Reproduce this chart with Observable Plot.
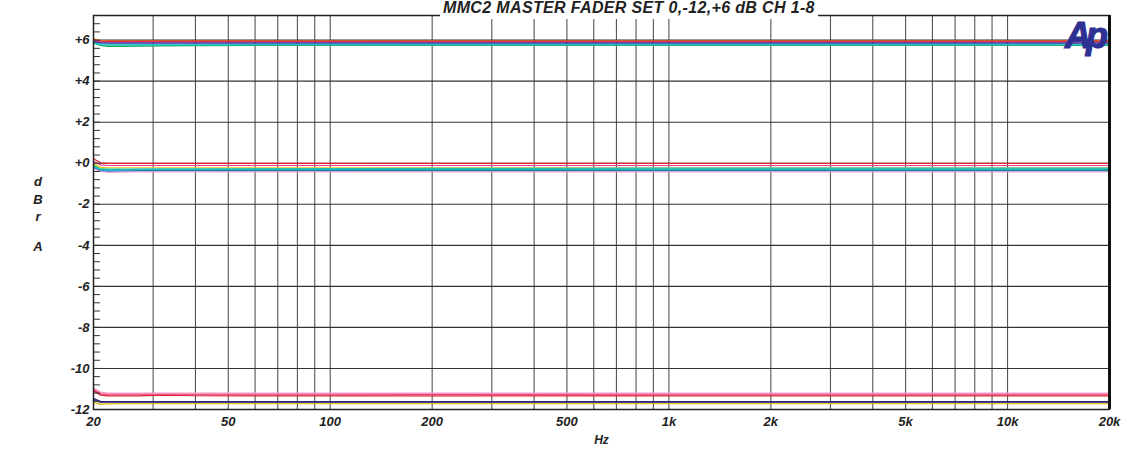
<!DOCTYPE html>
<html><head><meta charset="utf-8">
<script src="https://cdn.jsdelivr.net/npm/d3@7"></script>
<script src="https://cdn.jsdelivr.net/npm/@observablehq/plot@0.6"></script>
<style>
body{margin:0;background:#fff;font-family:"Liberation Sans",Arial,sans-serif;}
#wrap{position:relative;width:1128px;height:452px;overflow:hidden;}
.t{position:absolute;font-family:"Liberation Sans",Arial,sans-serif;font-weight:bold;font-style:italic;color:#222;white-space:nowrap;}
#title{left:440px;top:0px;font-size:16px;line-height:16px;background:#fff;padding:0 3px 3px 3px;}
#logo{left:1065px;top:18px;font-size:36px;line-height:36px;color:#2e3192;letter-spacing:-5px;-webkit-text-stroke:1.2px #2e3192;}
.yl{font-size:13px;line-height:14px;width:20px;text-align:center;left:28px;}
</style></head><body><div id="wrap"></div>
<script>
// ---- data ----
const freqHz = [20, 21, 22, 24, 27, 32, 40, 60, 100, 200, 1000, 20000];

const levelsPlus6 = [
  [6.08, 5.98, 5.95, 5.95, 5.95, 5.95, 5.95, 5.95, 5.95, 5.95, 5.95, 5.95],
  [5.85, 5.74, 5.70, 5.70, 5.71, 5.72, 5.73, 5.74, 5.74, 5.74, 5.74, 5.74],
  [5.88, 5.78, 5.76, 5.76, 5.76, 5.76, 5.76, 5.77, 5.77, 5.77, 5.77, 5.77],
  [5.90, 5.82, 5.80, 5.80, 5.80, 5.80, 5.80, 5.80, 5.80, 5.81, 5.81, 5.81],
  [5.93, 5.88, 5.86, 5.86, 5.86, 5.86, 5.86, 5.86, 5.86, 5.86, 5.86, 5.86],
  [5.95, 5.89, 5.87, 5.87, 5.87, 5.87, 5.87, 5.87, 5.87, 5.87, 5.87, 5.87],
  [5.98, 5.93, 5.92, 5.92, 5.92, 5.92, 5.92, 5.92, 5.92, 5.92, 5.92, 5.92],
  [6.03, 5.97, 5.95, 5.95, 5.95, 5.95, 5.95, 5.95, 5.95, 5.95, 5.95, 5.95]
];
const levelsZero = [
  [-0.02, -0.20, -0.22, -0.22, -0.22, -0.22, -0.22, -0.23, -0.23, -0.23, -0.23, -0.23],
  [-0.25, -0.40, -0.44, -0.43, -0.42, -0.42, -0.42, -0.42, -0.42, -0.42, -0.42, -0.42],
  [-0.20, -0.35, -0.38, -0.37, -0.36, -0.36, -0.36, -0.36, -0.36, -0.36, -0.36, -0.36],
  [-0.10, -0.29, -0.31, -0.31, -0.31, -0.31, -0.31, -0.31, -0.31, -0.31, -0.31, -0.31],
  [-0.18, -0.33, -0.34, -0.32, -0.30, -0.29, -0.28, -0.27, -0.26, -0.25, -0.24, -0.24],
  [-0.15, -0.28, -0.29, -0.29, -0.29, -0.29, -0.29, -0.29, -0.29, -0.29, -0.29, -0.29],
  [0.10, -0.08, -0.11, -0.11, -0.11, -0.11, -0.11, -0.11, -0.11, -0.11, -0.11, -0.11],
  [0.22, 0.02, -0.01, -0.01, -0.01, -0.01, -0.01, -0.01, -0.01, -0.01, -0.01, -0.01]
];
const levelsMinus12 = [
  [-11.65, -11.75, -11.73, -11.72, -11.72, -11.72, -11.72, -11.72, -11.72, -11.72, -11.72, -11.72],
  [-11.55, -11.66, -11.64, -11.64, -11.64, -11.64, -11.64, -11.64, -11.64, -11.64, -11.64, -11.64],
  [-11.45, -11.60, -11.63, -11.63, -11.63, -11.63, -11.63, -11.63, -11.63, -11.63, -11.63, -11.63],
  [-11.50, -11.62, -11.62, -11.62, -11.62, -11.62, -11.62, -11.62, -11.62, -11.62, -11.62, -11.62],
  [-11.05, -11.27, -11.28, -11.28, -11.28, -11.28, -11.28, -11.28, -11.28, -11.27, -11.28, -11.28],
  [-11.10, -11.30, -11.34, -11.34, -11.34, -11.30, -11.33, -11.34, -11.34, -11.34, -11.34, -11.34],
  [-11.00, -11.22, -11.24, -11.24, -11.24, -11.24, -11.24, -11.24, -11.24, -11.24, -11.24, -11.24],
  [-10.95, -11.15, -11.20, -11.20, -11.20, -11.20, -11.20, -11.20, -11.20, -11.20, -11.20, -11.20]
];

const colorsPlus6 = ["#e8c21a", "#11a84e", "#14c4a8", "#22b4e6", "#2a2a70", "#3a45b0", "#e0308c", "#e3242b"];
const colorsZero = ["#e8c21a", "#f4a6cc", "#2f6fd0", "#11a84e", "#22b4e6", "#14c4a8", "#e83e8c", "#e3242b"];
const colorsMinus12 = ["#d8b800", "#2e3192", "#5b3f99", "#2a2a70", "#e0308c", "#e3242b", "#ee5a8f", "#f49ac1"];

const xTickHz = [20, 50, 100, 200, 500, 1000, 2000, 5000, 10000, 20000];
const xTickLabels = ["20", "50", "100", "200", "500", "1k", "2k", "5k", "10k", "20k"];
const yTickDb = [6, 4, 2, 0, -2, -4, -6, -8, -10, -12];
const yTickLabels = ["+6", "+4", "+2", "+0", "-2", "-4", "-6", "-8", "-10", "-12"];
const titleText = "MMC2 MASTER FADER SET 0,-12,+6 dB CH 1-8";

// ---- build ----
const rows = [];
[[levelsPlus6, colorsPlus6, "p6"], [levelsZero, colorsZero, "z"], [levelsMinus12, colorsMinus12, "m12"]].forEach(([lv, cs, g]) => {
  lv.forEach((vals, c) => vals.forEach((v, i) => rows.push({trace: g + c, color: cs[c], hz: freqHz[i], db: v})));
});
const gridHz = [];
for (const dec of [10, 100, 1000, 10000]) for (let m = 1; m <= 9; m++) { const v = m * dec; if (v > 20 && v < 20000) gridHz.push(v); }
const gridDb = yTickDb.filter(d => d > -12);
const minorDb = d3.range(0, 49).map(i => Math.round((-12 + i * 0.4) * 10) / 10);
const xLabelRows = xTickHz.map((hz, i) => ({hz, label: xTickLabels[i]}));
const yLabelRows = yTickDb.map((db, i) => ({db, label: yTickLabels[i]}));

const font = "'Liberation Sans', Arial, sans-serif";
const chart = Plot.plot({
  width: 1128, height: 452,
  marginLeft: 93, marginRight: 19, marginTop: 15, marginBottom: 43,
  x: {type: "log", domain: [20, 20000], axis: null},
  y: {domain: [-12, 7.2]},
  color: {type: "identity"},
  style: {fontFamily: font, fontSize: "13px", fontWeight: "bold", fontStyle: "italic", color: "#222", background: "#fff"},
  marks: [
    Plot.ruleX(gridHz, {stroke: "#555", strokeWidth: 1.1}),
    Plot.ruleY(gridDb, {stroke: "#333", strokeWidth: 1.1}),
    Plot.line(rows, {x: "hz", y: "db", z: "trace", stroke: "color", strokeWidth: 1.2}),
    Plot.axisY(minorDb, {anchor: "left", tickSize: 7, dx: 7, tickFormat: () => "", label: null, stroke: "#333"}),
    Plot.text(yLabelRows, {y: "db", text: "label", frameAnchor: "left", textAnchor: "end", dx: -4, fontSize: 13, fontWeight: "bold", fontStyle: "italic", fill: "#222", fontFamily: font}),
    Plot.text(xLabelRows, {x: "hz", text: "label", frameAnchor: "bottom", dy: 16, fontSize: 13, fontWeight: "bold", fontStyle: "italic", fill: "#222", fontFamily: font}),
    Plot.frame({stroke: "#222", strokeWidth: 1.5}),
    Plot.ruleX([20000], {stroke: "#111", strokeWidth: 3}),
    Plot.text(["Hz"], {frameAnchor: "bottom", dy: 34, text: d => d, fontSize: 12, fontWeight: "bold", fontStyle: "italic", fill: "#222", fontFamily: font})
  ]
});
const wrap = document.getElementById("wrap");
wrap.appendChild(chart);

function addText(id, cls, txt, style) {
  const el = document.createElement("div");
  if (id) el.id = id;
  el.className = cls;
  el.textContent = txt;
  Object.assign(el.style, style || {});
  wrap.appendChild(el);
  return el;
}
const title = addText("title", "t", titleText);
const span = document.createElement("span");
span.textContent = titleText;
title.textContent = "";
title.appendChild(span);
const w = span.getBoundingClientRect().width;
title.style.letterSpacing = ((372 - w) / titleText.length).toFixed(2) + "px";
addText("logo", "t", "Ap");
[["d", 182], ["B", 200], ["r", 217], ["A", 247]].forEach(([c, y]) => addText(null, "t yl", c, {top: (y - 7) + "px"}));
</script></body></html>
